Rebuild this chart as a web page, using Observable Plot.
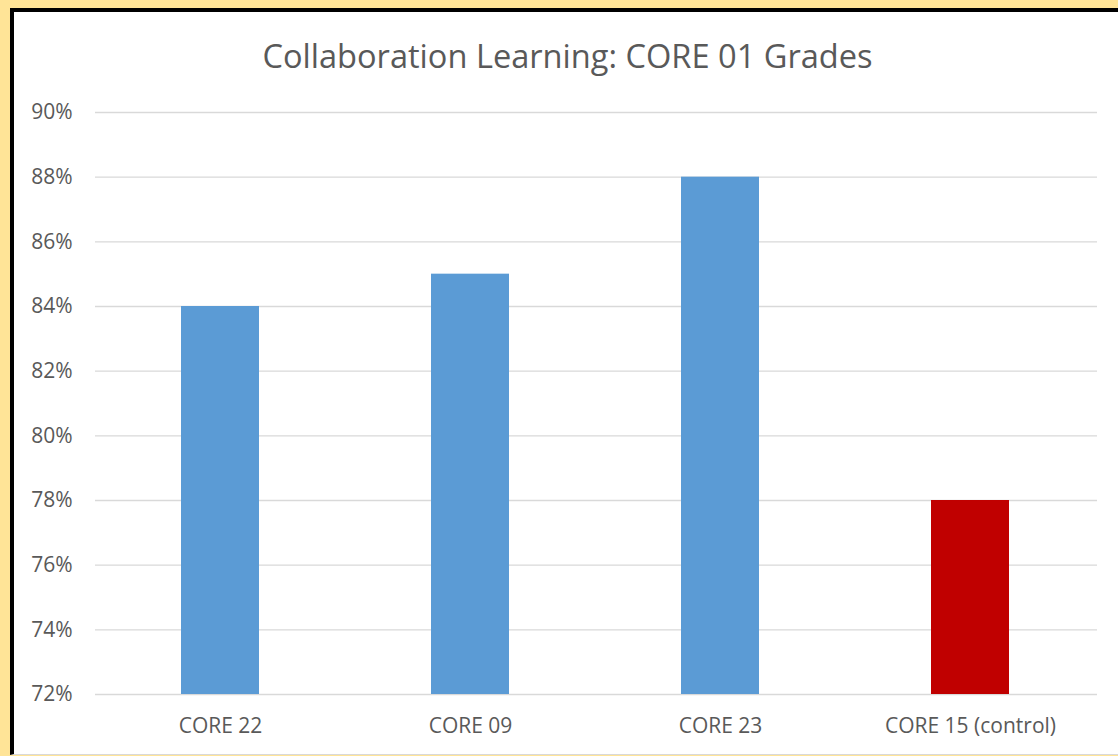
<!DOCTYPE html>
<html><head><meta charset="utf-8">
<script src="https://cdn.jsdelivr.net/npm/d3@7"></script>
<script src="https://cdn.jsdelivr.net/npm/@observablehq/plot@0.6"></script>
<style>
html,body{margin:0;padding:0;overflow:hidden;}
body{width:1118px;height:756px;background:#FFE497;position:relative;font-family:"Open Sans",sans-serif;}
#frame{position:absolute;left:10px;top:8px;width:1120px;height:742px;background:#fff;border-left:4px solid #000;border-top:4px solid #000;border-bottom:1px solid #d9d9d9;}
#title{position:absolute;left:0;top:33px;width:1135px;text-align:center;font-size:32.6px;color:#595959;line-height:normal;}
#chart{position:absolute;left:0;top:0;}
</style></head><body>
<div id="frame"></div>
<div id="title">Collaboration Learning: CORE 01 Grades</div>
<div id="chart"></div>
<script>
const categories = ["CORE 22", "CORE 09", "CORE 23", "CORE 15 (control)"];
const grades = [0.84, 0.85, 0.88, 0.78];
const groups = ["collaboration", "collaboration", "collaboration", "control"];
const yTicks = [0.72, 0.74, 0.76, 0.78, 0.80, 0.82, 0.84, 0.86, 0.88, 0.90];
const groupColors = ["#5B9BD5", "#C00000"];

const data = categories.map((c, i) => ({category: c, grade: grades[i], group: groups[i]}));

const chart = Plot.plot({
  width: 1118,
  height: 756,
  marginLeft: 95,
  marginRight: 23,
  marginTop: 112,
  marginBottom: 62,
  style: {background: "transparent", color: "#595959", fontFamily: "'Open Sans', sans-serif", fontSize: "21px"},
  x: {domain: categories, paddingInner: 0.688, paddingOuter: 0.344, label: null},
  y: {domain: [0.72, 0.90], label: null},
  color: {domain: ["collaboration", "control"], range: groupColors},
  marks: [
    Plot.ruleY(yTicks, {stroke: "#d9d9d9", strokeWidth: 1.3, insetRight: -2}),
    Plot.barY(data, {x: "category", y1: 0.72, y2: "grade", fill: "group"}),
    Plot.axisY({ticks: yTicks, tickFormat: d3.format(".0%"), tickSize: 0, tickPadding: 23, label: null, fontSize: 21}),
    Plot.axisX({tickSize: 0, tickPadding: 24, label: null, fontSize: 21})
  ]
});
document.getElementById("chart").appendChild(chart);
</script>
</body></html>
